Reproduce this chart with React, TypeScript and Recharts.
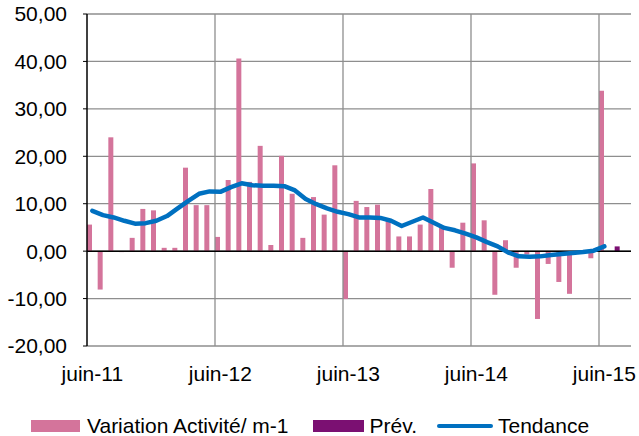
import {
  ComposedChart,
  Bar,
  Line,
  XAxis,
  YAxis,
  CartesianGrid,
  ReferenceLine,
} from 'recharts';

// month slots from juin-11 (slot 0) to juil-15 (slot 49)
const MONTH_NAMES = ['juin', 'juil', 'août', 'sept', 'oct', 'nov', 'déc', 'janv', 'févr', 'mars', 'avr', 'mai'];
const SLOT_COUNT = 51;

const variation = [
  5.6, -8.1, 24.0, -0.2, 2.8, 8.9, 8.6, 0.7, 0.7, 17.6, 9.7, 9.7,
  3.0, 15.0, 40.6, 14.6, 22.2, 1.3, 20.1, 12.1, 2.8, 11.4, 7.7, 18.1,
  -10.1, 10.6, 9.3, 9.8, 6.4, 3.1, 3.1, 5.6, 13.1, 5.1, -3.5, 6.0,
  18.5, 6.5, -9.2, 2.3, -3.5, -0.7, -14.3, -2.7, -6.5, -9.0, -0.4, -1.5,
  33.8,
];

const tendance = [
  8.5, 7.6, 7.1, 6.4, 5.8, 5.9, 6.4, 7.4, 9.0, 10.6, 12.1, 12.6,
  12.5, 13.5, 14.3, 13.9, 13.8, 13.8, 13.7, 12.8, 11.0, 9.9, 9.0, 8.3,
  7.8, 7.1, 7.1, 7.0, 6.4, 5.3, 6.2, 7.1, 6.0, 4.9, 4.4, 3.7,
  2.9, 1.9, 1.0, -0.3, -1.1, -1.2, -1.1, -0.8, -0.6, -0.4, -0.2, 0.1,
  1.0,
];

// forecast: only juil-15
const prevIndex = 49;
const prevValue = 1.0;

const yTicks = [-20, -10, 0, 10, 20, 30, 40, 50];
const yearStarts = [0, 12, 24, 36, 48];
const yearLabels = ['juin-11', 'juin-12', 'juin-13', 'juin-14', 'juin-15'];

const PINK = '#D4749B';
const PURPLE = '#7B1072';
const BLUE = '#0070C0';
const GRID = '#8E8E8E';
const FONT = '"Liberation Sans", Arial, sans-serif';

const monthLabel = (i: number) => {
  const m = MONTH_NAMES[i % 12];
  const yr = 11 + Math.floor((i + 5) / 12);
  return `${m}-${yr}`;
};

const data = Array.from({ length: 50 }, (_, i) => ({
  x: i + 0.5,
  month: monthLabel(i),
  variation: i < variation.length ? variation[i] : null,
  prev: i === prevIndex ? prevValue : null,
  tendance: i < tendance.length ? tendance[i] : null,
}));

const fmt = (v: number) => v.toFixed(2).replace('.', ',');

function LegendRow() {
  const text = { fontFamily: FONT, fontSize: 21, color: '#000', lineHeight: '24px' };
  return (
    <div style={{ position: 'absolute', left: 31, top: 414, display: 'flex', alignItems: 'center', whiteSpace: 'nowrap' }}>
      <span style={{ width: 49, height: 12, background: PINK, display: 'inline-block', marginRight: 7 }} />
      <span style={text}>Variation Activité/ m-1</span>
      <span style={{ width: 51, height: 12, background: PURPLE, display: 'inline-block', marginLeft: 24, marginRight: 6 }} />
      <span style={text}>Prév.</span>
      <span style={{ width: 56, height: 4, background: BLUE, borderRadius: 2, display: 'inline-block', marginLeft: 20, marginRight: 5 }} />
      <span style={text}>Tendance</span>
    </div>
  );
}

export default function App() {
  return (
    <div style={{ position: 'absolute', left: 0, top: 0, width: 639, height: 436, background: '#fff' }}>
      <ComposedChart
        width={639}
        height={390}
        data={data}
        margin={{ top: 14, right: 8, left: 0, bottom: 0 }}
        barGap={0}
      >
        <CartesianGrid vertical={false} stroke={GRID} strokeWidth={1.3} />
        <XAxis
          dataKey="x"
          type="number"
          domain={[0, SLOT_COUNT]}
          ticks={yearStarts.map((s) => s + 0.5)}
          tickFormatter={(v: number) => yearLabels[yearStarts.indexOf(v - 0.5)] ?? ''}
          axisLine={false}
          tickLine={false}
          tickSize={0}
          tickMargin={20}
          height={44}
          interval={0}
          tick={{ fill: '#000', fontSize: 21, fontFamily: FONT }}
        />
        <YAxis
          type="number"
          domain={[-20, 50]}
          ticks={yTicks}
          tickFormatter={fmt}
          width={87}
          axisLine={{ stroke: '#000', strokeWidth: 1.5 }}
          tickLine={{ stroke: '#000' }}
          tickSize={4}
          tickMargin={16}
          interval={0}
          tick={{ fill: '#000', fontSize: 21, fontFamily: FONT }}
        />
        {yearStarts.slice(1).map((s) => (
          <ReferenceLine key={s} x={s} stroke={GRID} strokeWidth={1.3} />
        ))}
        <Bar dataKey="variation" fill={PINK} barSize={5} isAnimationActive={false} />
        <Bar dataKey="prev" fill={PURPLE} barSize={5} isAnimationActive={false} />
        <ReferenceLine y={0} stroke="#000" strokeWidth={1.5} />
        <Line
          type="linear"
          dataKey="tendance"
          stroke={BLUE}
          strokeWidth={4.5}
          strokeLinecap="round"
          strokeLinejoin="round"
          dot={false}
          activeDot={false}
          isAnimationActive={false}
        />
      </ComposedChart>
      <LegendRow />
    </div>
  );
}
